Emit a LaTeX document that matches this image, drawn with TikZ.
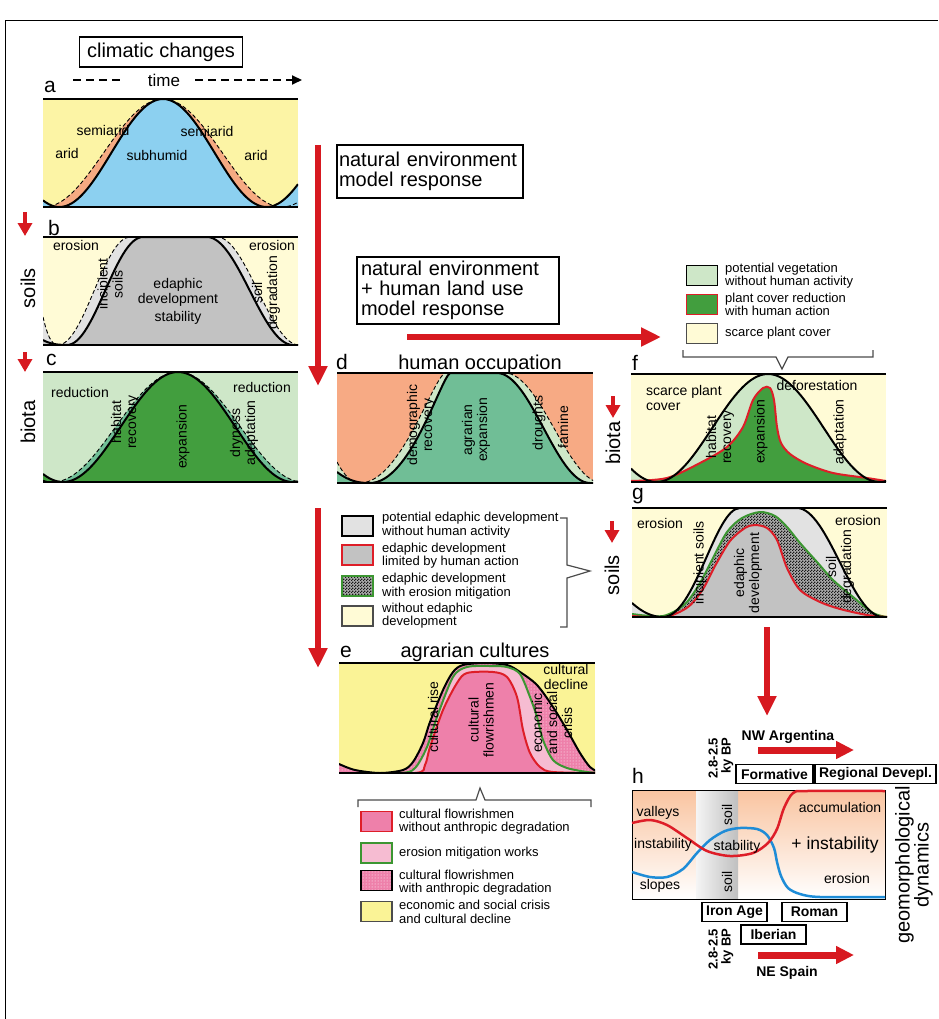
\documentclass[tikz,border=0pt]{standalone}
\usepackage{fontspec}
\setmainfont{Liberation Sans}
\usetikzlibrary{arrows.meta,patterns,positioning}

\definecolor{arrowred}{RGB}{215,25,32}
\definecolor{aridyellow}{RGB}{252,244,165}
\definecolor{semiorange}{RGB}{246,170,130}
\definecolor{humidblue}{RGB}{140,208,240}
\definecolor{paleyellow}{RGB}{255,251,214}
\definecolor{lightsoil}{RGB}{226,226,226}
\definecolor{soilgray}{RGB}{194,194,194}
\definecolor{palegreen}{RGB}{206,231,200}
\definecolor{tealgreen}{RGB}{112,190,150}
\definecolor{darkgreen}{RGB}{66,158,62}
\definecolor{salmon}{RGB}{247,170,132}
\definecolor{cultyellow}{RGB}{250,243,150}
\definecolor{cultpink}{RGB}{238,128,170}
\definecolor{lightpink}{RGB}{246,188,210}
\definecolor{peach}{RGB}{249,196,160}
\definecolor{slopeblue}{RGB}{30,140,215}
\definecolor{linered}{RGB}{222,30,40}
\definecolor{linegreen}{RGB}{60,150,50}

% fine checker for eroded soil
\pgfdeclarepatternformonly{finechecker}{\pgfpointorigin}{\pgfqpoint{3pt}{3pt}}{\pgfqpoint{3pt}{3pt}}{%
  \pgfpathrectangle{\pgfpointorigin}{\pgfqpoint{1.5pt}{1.5pt}}%
  \pgfpathrectangle{\pgfqpoint{1.5pt}{1.5pt}}{\pgfqpoint{1.5pt}{1.5pt}}%
  \pgfusepath{fill}}

\tikzset{
  lbl/.style={font=\fontsize{14}{15}\selectfont, align=center, inner sep=0pt},
  vlbl/.style={lbl, rotate=90},
  heading/.style={font=\fontsize{20}{20}\selectfont, inner sep=0pt},
  letter/.style={font=\fontsize{21}{21}\selectfont, inner sep=0pt, anchor=base west},
  legtxt/.style={font=\fontsize{13}{13.5}\selectfont, align=left, anchor=west, inner sep=0pt},
  legbox/.style={draw, line width=1.8pt, minimum width=31pt, minimum height=20pt, inner sep=0pt},
  bigarrow/.style={draw=arrowred, line width=6.5pt, -{Triangle[width=18pt,length=20pt]}},
  smallarrow/.style={draw=arrowred, line width=4.5pt, -{Triangle[width=14pt,length=13pt]}},
  periodbox/.style={draw, line width=1.2pt, font=\bfseries\fontsize{14}{14}\selectfont, minimum height=19pt, inner sep=0pt},
  bpnote/.style={rotate=90, align=right, inner sep=0pt, font=\bfseries\fontsize{13}{13}\selectfont},
  brace/.style={draw=black!70, line width=1.2pt},
  panelline/.style={line width=1.2pt},
  bellcurve/.style={line width=2pt},
  dashcurve/.style={line width=0.9pt, dash pattern=on 4pt off 2.5pt},
  timeline/.style={line width=2pt, dash pattern=on 8pt off 5pt},
  sidetitle/.style={rotate=90, font=\fontsize{20}{20}\selectfont, inner sep=0pt},
  checkfill/.style={preaction={fill=gray!65}, pattern=finechecker, pattern color=black!90},
}

\begin{document}
\begin{tikzpicture}[x=1pt,y=-1pt]
\useasboundingbox (0,0) rectangle (938,1019);
\draw[line width=0.8pt] (5,1019) -- (5,20) -- (938,20);

% ---- a: climatic changes ----
\node[draw, line width=1.5pt, heading, minimum width=163pt, minimum height=30pt] (climbox) at (161,52) {climatic changes};
\node[font=\fontsize{17}{17}\selectfont, inner sep=0pt] (time) at (164,80) {time};
\coordinate (tstart) at (73,80);
\coordinate (tend) at (302,80);
\draw[timeline] (tstart) -- ([xshift=-26pt]time.west);
\draw[timeline, -{Triangle[width=9pt,length=10pt]}] ([xshift=15pt]time.east) -- (tend);
\node[letter] (la) at (44,93) {a};
\begin{scope}
  \clip (43,99) rectangle (298,207);
  \fill[aridyellow] (43,99) rectangle (298,207);
  \fill[semiorange] (43,207) -- plot[domain=43:298,samples=90] (\x,{153-54*cos((\x-163)/238*360)}) -- (298,207) -- cycle;
  \fill[humidblue] (43,207) -- plot[domain=43:298,samples=90] (\x,{153-54*cos((\x-163)/207*360)}) -- (298,207) -- cycle;
  \draw[dashcurve] plot[domain=43:298,samples=90] (\x,{153-54*cos((\x-163)/238*360)});
  \draw[bellcurve] plot[domain=43:298,samples=90] (\x,{153-54*cos((\x-163)/207*360)});
\end{scope}
\draw[panelline] (43,99) -- (298,99) (43,207) -- (298,207);
\node[lbl] (arid1) at (67,153) {arid};
\node[lbl] (semi1) at (103,130) {semiarid};
\node[lbl] (humid) at (157,155) {subhumid};
\node[lbl] (semi2) at (207,131) {semiarid};
\node[lbl] (arid2) at (256,155) {arid};

% ---- b: soils ----
\node[letter] (lb) at (48,235) {b};
\coordinate (sab) at (25,212);
\coordinate (seb) at (25,236);
\draw[smallarrow] (sab) -- (seb);
\node[sidetitle] (soilsl) at (28,288) {soils};
\begin{scope}
  \clip (43,237) rectangle (298,345);
  \fill[paleyellow] (43,237) rectangle (298,345);
  \fill[lightsoil] (43,345) -- (43,317) .. controls (47,334) and (51,345) .. (58,345) .. controls (84,345) and (104,237) .. (130,237) -- (217,237) .. controls (246,237) and (270,345) .. (299,345) -- cycle;
  \fill[soilgray] (43,345) -- (43,340) .. controls (50,344) and (58,345) .. (67,345) .. controls (95,345) and (115,237) .. (143,237) -- (207,237) .. controls (238,237) and (262,345) .. (293,345) -- (298,345) -- cycle;
  \draw[dashcurve] (43,317) .. controls (47,334) and (51,345) .. (58,345) .. controls (84,345) and (104,237) .. (130,237) -- (217,237) .. controls (246,237) and (270,345) .. (299,345);
  \draw[bellcurve] (43,340) .. controls (50,344) and (58,345) .. (67,345) .. controls (95,345) and (115,237) .. (143,237) -- (207,237) .. controls (238,237) and (262,345) .. (293,345) -- (298,345);
\end{scope}
\draw[panelline] (43,237) -- (298,237) (43,345) -- (298,345);
\node[lbl] (eros1) at (76,245) {erosion};
\node[lbl] (eros2) at (272,245) {erosion};
\node[vlbl] (incip) at (110,284) {incipient\\soils};
\node[lbl] (edaph) at (178,292) {edaphic\\development};
\node[lbl] (stab) at (178,318) {stability};
\node[vlbl] (degr) at (266,293) {soil\\degradation};

% ---- c: biota ----
\node[letter] (lc) at (46,365) {c};
\coordinate (sac) at (25,352);
\coordinate (sec) at (25,372);
\draw[smallarrow] (sac) -- (sec);
\node[sidetitle] (biotal) at (28,422) {biota};
\begin{scope}
  \clip (43,372) rectangle (298,482);
  \fill[palegreen] (43,372) rectangle (298,482);
  \fill[tealgreen] (43,482) -- plot[domain=43:298,samples=90] (\x,{427-55*cos((\x-178)/250*360)}) -- (298,482) -- cycle;
  \fill[darkgreen] (43,482) -- plot[domain=43:298,samples=90] (\x,{427-55*cos((\x-178)/230*360)}) -- (298,482) -- cycle;
  \draw[dashcurve] plot[domain=43:298,samples=90] (\x,{427-55*cos((\x-178)/250*360)});
  \draw[bellcurve] plot[domain=43:298,samples=90] (\x,{427-55*cos((\x-178)/230*360)});
\end{scope}
\draw[panelline] (43,372) -- (298,372) (43,482) -- (298,482);
\node[lbl] (red1) at (80,392) {reduction};
\node[lbl] (red2) at (262,387) {reduction};
\node[vlbl] (habit) at (125,422) {habitat\\recovery};
\node[vlbl] (expan) at (183,437) {expansion};
\node[vlbl] (dryad) at (244,433) {dryness\\adaptation};

% ---- model boxes and arrows ----
\node[draw, line width=1.5pt, heading, align=left, text width=182pt, inner xsep=2pt, minimum height=53pt] (natbox) at (430,171.5) {natural environment\\model response};
\node[draw, line width=1.5pt, heading, align=left, text width=194pt, inner xsep=4pt, minimum height=67pt] (humbox) at (458,290.5) {natural environment\\+ human land use\\model response};
\coordinate (va1) at (318,145);
\coordinate (va2) at (318,386);
\draw[bigarrow] (va1) -- (va2);
\coordinate (ha1) at (407,337);
\coordinate (ha2) at (661,337);
\draw[bigarrow] (ha1) -- (ha2);
\coordinate (vb1) at (318,508);
\coordinate (vb2) at (318,668);
\draw[bigarrow] (vb1) -- (vb2);
\coordinate (vc1) at (767,627);
\coordinate (vc2) at (767,716);
\draw[bigarrow] (vc1) -- (vc2);

% ---- d: human occupation ----
\node[letter] (ld) at (336,369) {d};
\node[heading, anchor=base] (occup) at (480,369) {human occupation};
\begin{scope}
  \clip (337,373) rectangle (593,483);
  \fill[salmon] (337,373) rectangle (593,483);
  \fill[palegreen] (337,483) -- (337,462) .. controls (345,477) and (352,483) .. (360,483) .. controls (400,483) and (432,380) .. (445,373) -- (505,373) .. controls (540,373) and (568,483) .. (602,483) -- cycle;
  \fill[tealgreen] (337,483) -- (337,472) .. controls (350,482) and (360,483) .. (370,483) .. controls (410,483) and (440,380) .. (450,373) -- (497,373) .. controls (531,373) and (556,483) .. (590,483) -- (593,483) -- cycle;
  \draw[dashcurve] (337,462) .. controls (345,477) and (352,483) .. (360,483) .. controls (400,483) and (432,380) .. (445,373) -- (505,373) .. controls (540,373) and (568,483) .. (602,483);
  \draw[bellcurve] (337,472) .. controls (350,482) and (360,483) .. (370,483) .. controls (410,483) and (440,380) .. (450,373) -- (497,373) .. controls (531,373) and (556,483) .. (590,483) -- (593,483);
\end{scope}
\draw[panelline] (337,373) -- (593,373) (337,483) -- (593,483);
\node[vlbl] (demog) at (421,425) {demographic\\recovery};
\node[vlbl] (agrex) at (476,430) {agrarian\\expansion};
\node[vlbl] (drought) at (539,423) {droughts};
\node[vlbl] (famine) at (563,427) {famine};

% ---- f: biota with human action ----
\node[legbox, fill=palegreen] (fbox1) at (702,275.5) {};
\node[legbox, fill=darkgreen, draw=linered] (fbox2) at (702,304.5) {};
\node[legbox, fill=paleyellow, draw=black!70, line width=1.2pt] (fbox3) at (702,333.5) {};
\node[legtxt] (ftxt1) at (725,275.5) {potential vegetation\\without human activity};
\node[legtxt] (ftxt2) at (725,304.5) {plant cover reduction\\with human action};
\node[legtxt] (ftxt3) at (725,333.5) {scarce plant cover};
\draw[brace] (683,350) -- (683,357) -- (776,357) -- (782,369) -- (788,357) -- (873,357) -- (873,350);
\node[letter] (lf) at (632,370) {f};
\coordinate (saf) at (613,396);
\coordinate (sef) at (613,418);
\draw[smallarrow] (saf) -- (sef);
\node[sidetitle] (biotar) at (613,443) {biota};
\begin{scope}
  \clip (631,374) rectangle (886,482);
  \fill[paleyellow] (631,374) rectangle (886,482);
  \fill[palegreen] (631,482) -- plot[domain=631:886,samples=90] (\x,{428-54*cos((\x-768)/223*360)}) -- (886,482) -- cycle;
  \fill[darkgreen] (631,482) -- plot[smooth] coordinates {(631,481) (667,478) (700,463) (727,447) (743,427) (753,400) (763,388) (770,388) (774,400) (777,427) (781,443) (790,454) (807,464) (833,473) (867,478) (886,481)} -- (886,482) -- cycle;
  \draw[linered, line width=2pt] plot[smooth] coordinates {(631,481) (667,478) (700,463) (727,447) (743,427) (753,400) (763,388) (770,388) (774,400) (777,427) (781,443) (790,454) (807,464) (833,473) (867,478) (886,481)};
  \draw[bellcurve] plot[domain=631:886,samples=90] (\x,{428-54*cos((\x-768)/223*360)});
\end{scope}
\draw[panelline] (631,374) -- (886,374) (631,482) -- (886,482);
\node[lbl, align=left, anchor=west] (scarce) at (646,398) {scarce plant\\cover};
\node[lbl] (defor) at (817,385) {deforestation};
\node[vlbl] (habitf) at (720,437) {habitat\\recovery};
\node[vlbl] (expanf) at (761,432) {expansion};
\node[vlbl] (adapt) at (840,432) {adaptation};

% ---- legend for soils ----
\node[legbox, fill=lightsoil] (gbox1) at (357.5,526) {};
\node[legbox, fill=soilgray, draw=linered] (gbox2) at (357.5,555) {};
\node[legbox, checkfill, draw=linegreen] (gbox3) at (357.5,586) {};
\node[legbox, fill=paleyellow, draw=black!70, line width=1.2pt] (gbox4) at (357.5,616) {};
\node[legtxt] (gtxt1) at (382,525) {potential edaphic development\\without human activity};
\node[legtxt] (gtxt2) at (382,555.5) {edaphic development\\limited by human action};
\node[legtxt] (gtxt3) at (382,586) {edaphic development\\with erosion mitigation};
\node[legtxt] (gtxt4) at (382,615.5) {without edaphic\\development};
\draw[brace] (560,518) -- (567,518) -- (567,565) -- (590,571) -- (567,578) -- (567,627) -- (560,627);

% ---- g: soils with human action ----
\node[letter] (lg) at (632,499) {g};
\coordinate (sag) at (612,521);
\coordinate (seg) at (612,543);
\draw[smallarrow] (sag) -- (seg);
\node[sidetitle] (soilsr) at (612,575) {soils};
\begin{scope}
  \clip (632,508) rectangle (887,617);
  \fill[paleyellow] (632,508) rectangle (887,617);
  \fill[lightsoil] (632,617) -- (632,603) .. controls (642,612) and (652,617) .. (663,617) .. controls (695,617) and (715,508) .. (740,508) -- (797,508) .. controls (828,508) and (852,617) .. (883,617) -- (887,617) -- cycle;
  \path[checkfill] (632,617) -- plot[smooth] coordinates {(632,614) (663,616) (685,604) (700,583) (712,560) (727,532) (742,518) (760,512) (775,516) (787,527) (800,543) (817,562) (833,580) (853,597) (873,613) (887,617)} -- (887,617) -- cycle;
  \fill[soilgray] (632,617) -- plot[smooth] coordinates {(632,616) (665,617) (688,607) (703,589) (715,566) (730,541) (745,528) (755,525) (767,528) (777,540) (787,568) (800,590) (820,602) (840,609) (867,615) (887,617)} -- (887,617) -- cycle;
  \draw[linegreen, line width=2pt] plot[smooth] coordinates {(632,614) (663,616) (685,604) (700,583) (712,560) (727,532) (742,518) (760,512) (775,516) (787,527) (800,543) (817,562) (833,580) (853,597) (873,613) (887,617)};
  \draw[linered, line width=2pt] plot[smooth] coordinates {(632,616) (665,617) (688,607) (703,589) (715,566) (730,541) (745,528) (755,525) (767,528) (777,540) (787,568) (800,590) (820,602) (840,609) (867,615) (887,617)};
  \draw[bellcurve] (632,603) .. controls (642,612) and (652,617) .. (663,617) .. controls (695,617) and (715,508) .. (740,508) -- (797,508) .. controls (828,508) and (852,617) .. (883,617) -- (887,617);
\end{scope}
\draw[panelline] (632,508) -- (887,508) (632,617) -- (887,617);
\node[lbl] (erosg1) at (660,523) {erosion};
\node[lbl] (erosg2) at (858,520) {erosion};
\node[vlbl] (incipg) at (700,563) {incipient soils};
\node[vlbl] (edaphg) at (748,573) {edaphic\\development};
\node[vlbl] (degrg) at (840,567) {soil\\degradation};

% ---- e: agrarian cultures ----
\node[letter] (le) at (340,657) {e};
\node[heading, anchor=base] (agrar) at (475,657) {agrarian cultures};
\begin{scope}
  \clip (339,663) rectangle (595,773);
  \fill[cultyellow] (339,663) rectangle (595,773);
  \path[preaction={fill=cultpink}, pattern=dots, pattern color=white] (339,773) -- plot[smooth] coordinates {(339,764) (355,770) (380,773) (403,770) (413,762) (423,743) (430,722) (443,690) (453,672) (463,665) (485,663) (507,665) (520,672) (537,685) (553,707) (567,730) (580,753) (590,767) (600,773)} -- (600,773) -- cycle;
  \fill[lightpink] (339,773) -- plot[smooth] coordinates {(339,773) (400,773) (415,768) (427,747) (437,717) (453,677) (467,667) (490,666) (507,667) (520,674) (530,697) (537,717) (543,740) (553,760) (567,768) (587,772) (600,773)} -- cycle;
  \fill[cultpink] (339,773) -- plot[smooth] coordinates {(339,773) (415,773) (425,765) (430,747) (443,710) (457,683) (467,673) (493,672) (507,677) (517,697) (523,730) (530,753) (540,767) (553,772) (600,773)} -- cycle;
  \draw[bellcurve] plot[smooth] coordinates {(339,764) (355,770) (380,773) (403,770) (413,762) (423,743) (430,722) (443,690) (453,672) (463,665) (485,663) (507,665) (520,672) (537,685) (553,707) (567,730) (580,753) (590,767) (600,773)};
  \draw[linered, line width=2pt] plot[smooth] coordinates {(339,773) (415,773) (425,765) (430,747) (443,710) (457,683) (467,673) (493,672) (507,677) (517,697) (523,730) (530,753) (540,767) (553,772) (600,773)};
  \draw[linegreen, line width=2pt] plot[smooth] coordinates {(339,773) (400,773) (415,768) (427,747) (437,717) (453,677) (467,667) (490,666) (507,667) (520,674) (530,697) (537,717) (543,740) (553,760) (567,768) (587,772) (600,773)};
\end{scope}
\draw[panelline] (339,663) -- (595,663) (339,773) -- (595,773);
\node[vlbl] (crise) at (433,717) {cultural rise};
\node[vlbl] (cflow) at (481,720) {cultural\\flowrishmen};
\node[vlbl] (ecris) at (552,723) {economic\\and social\\crisis};
\node[lbl] (cdecl) at (566,677) {cultural\\decline};

% ---- legend for cultures ----
\draw[brace] (358,807) -- (358,800) -- (476,800) -- (480,788) -- (485,800) -- (591,800) -- (591,807);
\node[legbox, fill=cultpink, draw=linered] (ebox1) at (376.5,821.5) {};
\node[legbox, fill=lightpink, draw=linegreen] (ebox2) at (376.5,853) {};
\node[legbox, preaction={fill=cultpink}, pattern=dots, pattern color=white] (ebox3) at (376.5,880.5) {};
\node[legbox, fill=cultyellow, draw=black!70, line width=1.2pt] (ebox4) at (376.5,911.5) {};
\node[legtxt] (etxt1) at (399,821.5) {cultural flowrishmen\\without anthropic degradation};
\node[legtxt] (etxt2) at (399,853) {erosion mitigation works};
\node[legtxt] (etxt3) at (399,882.5) {cultural flowrishmen\\with anthropic degradation};
\node[legtxt] (etxt4) at (399,912) {economic and social crisis\\and cultural decline};

% ---- h: geomorphological dynamics ----
\node[font=\bfseries\fontsize{14}{14}\selectfont, inner sep=0pt] (nwarg) at (788,737) {NW Argentina};
\coordinate (nw1) at (758,750);
\coordinate (nw2) at (854,750);
\draw[draw=arrowred, line width=7pt, -{Triangle[width=17pt,length=18pt]}] (nw1) -- (nw2);
\node[bpnote] (bpnw) at (721,758) {2.8-2.5\\ky BP};
\node[periodbox, minimum width=77pt] (format) at (774.5,774) {Formative};
\node[periodbox, minimum width=121pt] (region) at (875.5,774) {Regional Devepl.};
\node[letter] (lh) at (632,783) {h};
\shade[top color=peach, bottom color=white] (632,790) rectangle (885,899);
\shade[left color=gray!8, right color=gray!50] (696,790) rectangle (738,899);
\draw[line width=1pt] (632,790) rectangle (885,899);
\draw[slopeblue, line width=2.5pt] plot[smooth] coordinates {(632,872) (650,877) (667,877) (683,869) (697,853) (710,840) (725,831) (740,828) (757,829) (767,835) (774,848) (777,862) (781,876) (788,888) (800,894) (820,897) (885,897)};
\draw[linered, line width=2.5pt] plot[smooth] coordinates {(632,823) (650,820) (667,825) (687,838) (707,851) (730,856) (753,853) (768,843) (777,829) (784,808) (793,793) (807,791) (885,791)};
\node[lbl] (valley) at (658,813) {valleys};
\node[lbl] (instl) at (663,845) {instability};
\node[lbl] (slopes) at (660,886) {slopes};
\node[vlbl] (soilh1) at (727,815) {soil};
\node[vlbl] (soilh2) at (727,882) {soil};
\node[lbl] (stabh) at (737,847) {stability};
\node[lbl] (accum) at (840,807) {accumulation};
\node[lbl, font=\fontsize{17.5}{18}\selectfont] (instr) at (835,845) {+ instability};
\node[lbl] (erosh) at (847,878) {erosion};
\node[sidetitle, align=center, font=\fontsize{20}{19}\selectfont] (geomor) at (914,865) {geomorphological\\dynamics};
\node[periodbox, minimum width=65pt] (iron) at (734.5,912) {Iron Age};
\node[periodbox, minimum width=65pt] (roman) at (814.5,912) {Roman};
\node[periodbox, minimum width=65pt] (iber) at (773.5,934.5) {Iberian};
\node[bpnote] (bpne) at (721,949) {2.8-2.5\\ky BP};
\coordinate (ne1) at (758,955);
\coordinate (ne2) at (854,955);
\draw[draw=arrowred, line width=7pt, -{Triangle[width=17pt,length=18pt]}] (ne1) -- (ne2);
\node[font=\bfseries\fontsize{14}{14}\selectfont, inner sep=0pt] (nespain) at (787,973) {NE Spain};
\end{tikzpicture}
\end{document}
